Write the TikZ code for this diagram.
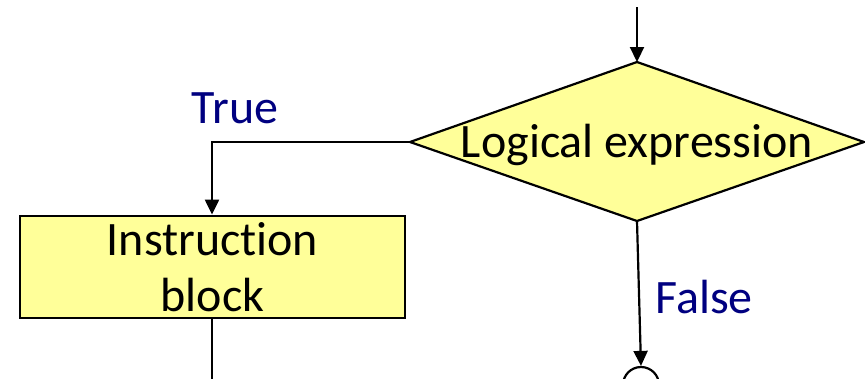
\documentclass[tikz,border=0pt]{standalone}
\usepackage{fontspec}
\setmainfont{Carlito}[RawFeature={-liga;-dlig;-calt}]
\usetikzlibrary{arrows.meta}
\definecolor{boxfill}{RGB}{255,255,153}
\definecolor{labelblue}{RGB}{0,0,128}
\begin{document}
\begin{tikzpicture}[x=1pt,y=-1pt,
  flow/.style={line width=2.2pt,-{Triangle[length=15pt,width=14pt]}},
  plain/.style={line width=2.2pt},
  decision/.style={draw,line width=2.2pt,fill=boxfill,line join=miter},
  block/.style={rectangle,draw,line width=2.8pt,fill=boxfill,inner sep=0pt,
    minimum width=385pt,minimum height=102pt,align=center,
    font=\fontsize{48}{56}\selectfont},
  caption/.style={inner sep=0pt,anchor=base,font=\fontsize{48}{56}\selectfont},
  branch/.style={caption,text=labelblue},
  joint/.style={circle,draw,line width=2.2pt,minimum size=36pt,inner sep=0pt}]
  \useasboundingbox (0,0) rectangle (865,378);
  \begin{scope}
    \clip (0,0) rectangle (865,378);
    % decision diamond corners
    \coordinate (test-n) at (637,62);
    \coordinate (test-e) at (864,142);
    \coordinate (test-s) at (637,221);
    \coordinate (test-w) at (410,142);
    \draw[decision] (test-n) -- (test-e) -- (test-s) -- (test-w) -- cycle;
    \node[caption] (test) at (637,157) {Logical expression};
    \node[block] (body) at (212.5,267) {Instruct\kern0pt ion\\block};
    \node[joint] (merge) at (641,385) {};
    \coordinate (entry) at (637,7);
    \coordinate (corner) at (212,142);
    \coordinate (exit) at (212,380);
    \draw[flow] (entry) -- (test-n);
    \draw[flow] (test-w) -- (corner) -- (body.north -| corner);
    \draw[plain] (body.south -| exit) -- (exit);
    \draw[flow] (test-s) -- (merge.north);
    \node[branch] (yes) at (235,123) {True};
    \node[branch] (no) at (704,313) {False};
  \end{scope}
\end{tikzpicture}
\end{document}
